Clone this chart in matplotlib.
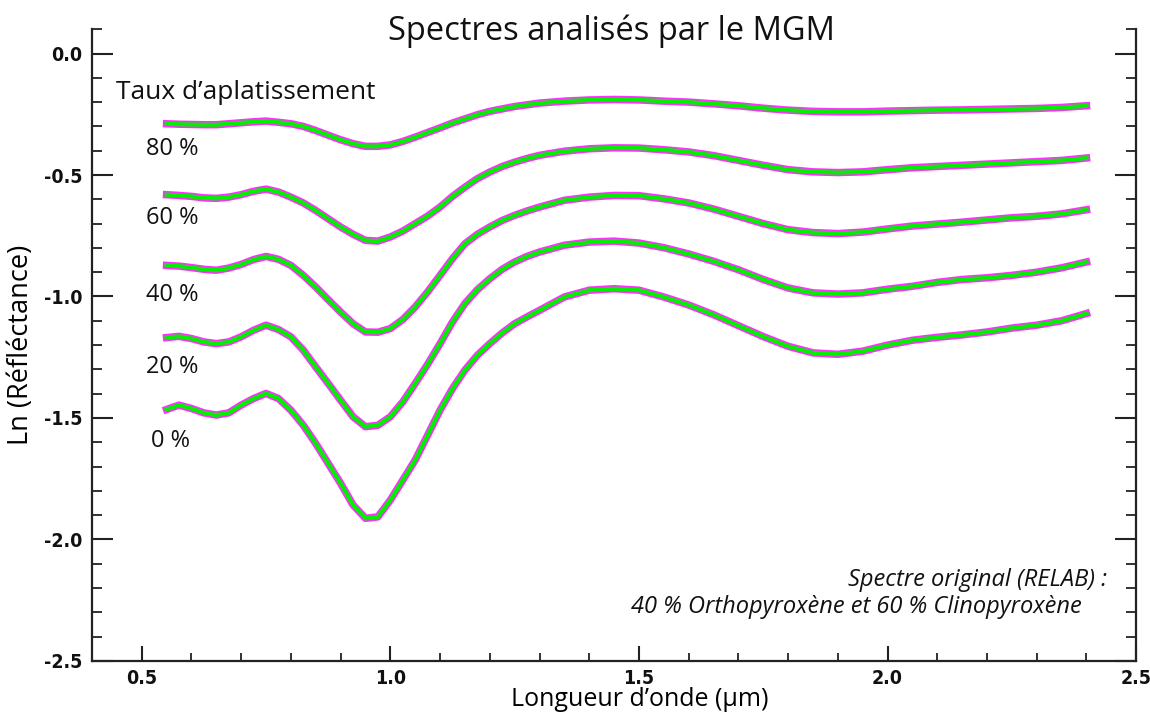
#!/usr/bin/env python3
"""Spectres analisés par le MGM : spectres RELAB aplatis + modèle MGM."""

import numpy as np
import matplotlib.pyplot as plt
from matplotlib.ticker import MultipleLocator

wavelength = [0.550, 0.575, 0.600, 0.625, 0.650, 0.675, 0.700, 0.725, 0.750, 0.775,
              0.800, 0.825, 0.850, 0.875, 0.900, 0.925, 0.950, 0.975, 1.000, 1.025,
              1.050, 1.075, 1.100, 1.125, 1.150, 1.175, 1.200, 1.225, 1.250, 1.275,
              1.300, 1.35, 1.40, 1.45, 1.50, 1.55, 1.60, 1.65, 1.70, 1.75,
              1.80, 1.85, 1.90, 1.95, 2.00, 2.05, 2.10, 2.15, 2.20, 2.25,
              2.30, 2.35, 2.40]

# Ln(réflectance) pour chaque taux d'aplatissement
flat_0 = [-1.465, -1.447, -1.461, -1.479, -1.488, -1.479, -1.447, -1.420, -1.399, -1.420,
          -1.468, -1.530, -1.605, -1.687, -1.769, -1.858, -1.913, -1.907, -1.838, -1.756,
          -1.673, -1.571, -1.468, -1.379, -1.303, -1.242, -1.194, -1.150, -1.112, -1.084,
          -1.057, -1.002, -0.974, -0.968, -0.974, -1.002, -1.035, -1.075, -1.120, -1.165,
          -1.205, -1.232, -1.238, -1.225, -1.200, -1.180, -1.168, -1.158, -1.146, -1.130,
          -1.118, -1.100, -1.070]
flat_20 = [-1.169, -1.164, -1.173, -1.187, -1.194, -1.187, -1.166, -1.139, -1.118, -1.136,
           -1.166, -1.221, -1.290, -1.358, -1.427, -1.495, -1.536, -1.530, -1.495, -1.434,
           -1.358, -1.279, -1.194, -1.105, -1.029, -0.972, -0.927, -0.888, -0.858, -0.835,
           -0.817, -0.789, -0.776, -0.772, -0.780, -0.799, -0.825, -0.855, -0.890, -0.930,
           -0.965, -0.985, -0.990, -0.985, -0.970, -0.958, -0.942, -0.930, -0.923, -0.913,
           -0.900, -0.882, -0.858]
flat_40 = [-0.872, -0.875, -0.881, -0.888, -0.892, -0.883, -0.868, -0.848, -0.835, -0.847,
           -0.872, -0.913, -0.961, -1.013, -1.064, -1.112, -1.146, -1.147, -1.132, -1.095,
           -1.043, -0.981, -0.913, -0.844, -0.783, -0.744, -0.714, -0.687, -0.666, -0.648,
           -0.632, -0.604, -0.591, -0.584, -0.585, -0.598, -0.615, -0.640, -0.670, -0.700,
           -0.725, -0.737, -0.741, -0.735, -0.722, -0.710, -0.702, -0.694, -0.685, -0.676,
           -0.670, -0.660, -0.643]
flat_60 = [-0.581, -0.584, -0.588, -0.594, -0.596, -0.591, -0.581, -0.567, -0.558, -0.570,
           -0.591, -0.615, -0.646, -0.680, -0.714, -0.744, -0.769, -0.772, -0.755, -0.731,
           -0.700, -0.669, -0.632, -0.588, -0.550, -0.515, -0.488, -0.465, -0.447, -0.432,
           -0.419, -0.402, -0.392, -0.388, -0.389, -0.396, -0.405, -0.420, -0.440, -0.460,
           -0.478, -0.487, -0.490, -0.487, -0.478, -0.470, -0.465, -0.460, -0.455, -0.450,
           -0.445, -0.440, -0.430]
flat_80 = [-0.289, -0.291, -0.292, -0.293, -0.293, -0.289, -0.285, -0.281, -0.278, -0.283,
           -0.289, -0.300, -0.317, -0.336, -0.355, -0.371, -0.382, -0.382, -0.376, -0.362,
           -0.344, -0.325, -0.306, -0.286, -0.269, -0.252, -0.238, -0.228, -0.218, -0.211,
           -0.204, -0.196, -0.191, -0.189, -0.191, -0.196, -0.200, -0.207, -0.215, -0.225,
           -0.233, -0.238, -0.240, -0.240, -0.237, -0.235, -0.233, -0.232, -0.230, -0.228,
           -0.226, -0.222, -0.215]

spectra = [flat_80, flat_60, flat_40, flat_20, flat_0]
labels = ["80 %", "60 %", "40 %", "20 %", "0 %"]
label_y = [-0.391, -0.678, -0.993, -1.289, -1.595]   # position des étiquettes

TEXT_FONT = ["Open Sans", "DejaVu Sans"]

fig = plt.figure(figsize=(11.5, 7.13), dpi=100)
ax = fig.add_axes([0.080, 0.073, 0.908, 0.886])

x = np.array(wavelength)
for y in spectra:
    # données (croix magenta) puis modèle MGM (vert)
    ax.plot(x, y, color="#ff30ff", lw=5.4, solid_joinstyle="round", zorder=2)
    ax.plot(x, y, color="#00f000", lw=3.0, solid_joinstyle="round", zorder=3)

ax.set_xlim(0.4, 2.5)
ax.set_ylim(-2.5, 0.1)

# axes : gauche, bas, droite ; ticks vers l'intérieur
ax.spines["top"].set_visible(False)
for side in ["left", "bottom", "right"]:
    ax.spines[side].set_linewidth(1.6)
    ax.spines[side].set_color("#222222")

ax.xaxis.set_major_locator(MultipleLocator(0.5))
ax.xaxis.set_minor_locator(MultipleLocator(0.1))
ax.yaxis.set_major_locator(MultipleLocator(0.5))
ax.yaxis.set_minor_locator(MultipleLocator(0.1))
ax.tick_params(axis="x", which="major", direction="in", length=11, width=1.5,
               pad=6, top=False, color="#222222")
ax.tick_params(axis="x", which="minor", direction="in", length=6, width=1.3,
               top=False, color="#222222")
ax.tick_params(axis="y", which="major", direction="in", length=15, width=1.5,
               pad=7, right=True, color="#222222")
ax.tick_params(axis="y", which="minor", direction="in", length=7, width=1.3,
               right=True, color="#222222")
ax.xaxis.set_major_formatter(plt.FuncFormatter(lambda v, p: f"{v:.1f}"))
ax.yaxis.set_major_formatter(plt.FuncFormatter(lambda v, p: f"{v:.1f}"))
for lab in ax.get_xticklabels() + ax.get_yticklabels():
    lab.set_family("DejaVu Sans")
    lab.set_stretch("condensed")
    lab.set_fontweight("bold")
    lab.set_fontsize(14)
    lab.set_color("#111111")

ax.set_xlabel("Longueur d’onde (µm)", family=TEXT_FONT, fontsize=18, labelpad=0)
ax.xaxis.set_label_coords(0.525, -0.042)
ax.set_ylabel("Ln (Réfléctance)", family=TEXT_FONT, fontsize=19.5, labelpad=6)

fig.text(0.532, 0.944, "Spectres analisés par le MGM", family=TEXT_FONT,
         fontsize=23.5, ha="center", va="baseline", color="#111111")

ax.text(0.448, -0.16, "Taux d’aplatissement", family=TEXT_FONT, fontsize=19,
        ha="left", va="center", color="#111111")
for lab, ly in zip(labels, label_y):
    lx = 0.518 if lab == "0 %" else 0.508
    ax.text(lx, ly, lab, family=TEXT_FONT, fontsize=17, ha="left", va="center",
            color="#111111")

fig.text(0.8496, 0.1865, "Spectre original (RELAB) :", family=TEXT_FONT,
         style="italic", fontsize=17, ha="center", va="center", color="#111111")
fig.text(0.7443, 0.1487, "40 % Orthopyroxène et 60 % Clinopyroxène",
         family=TEXT_FONT, style="italic", fontsize=17, ha="center",
         va="center", color="#111111")

plt.savefig("out.png", dpi=100)
